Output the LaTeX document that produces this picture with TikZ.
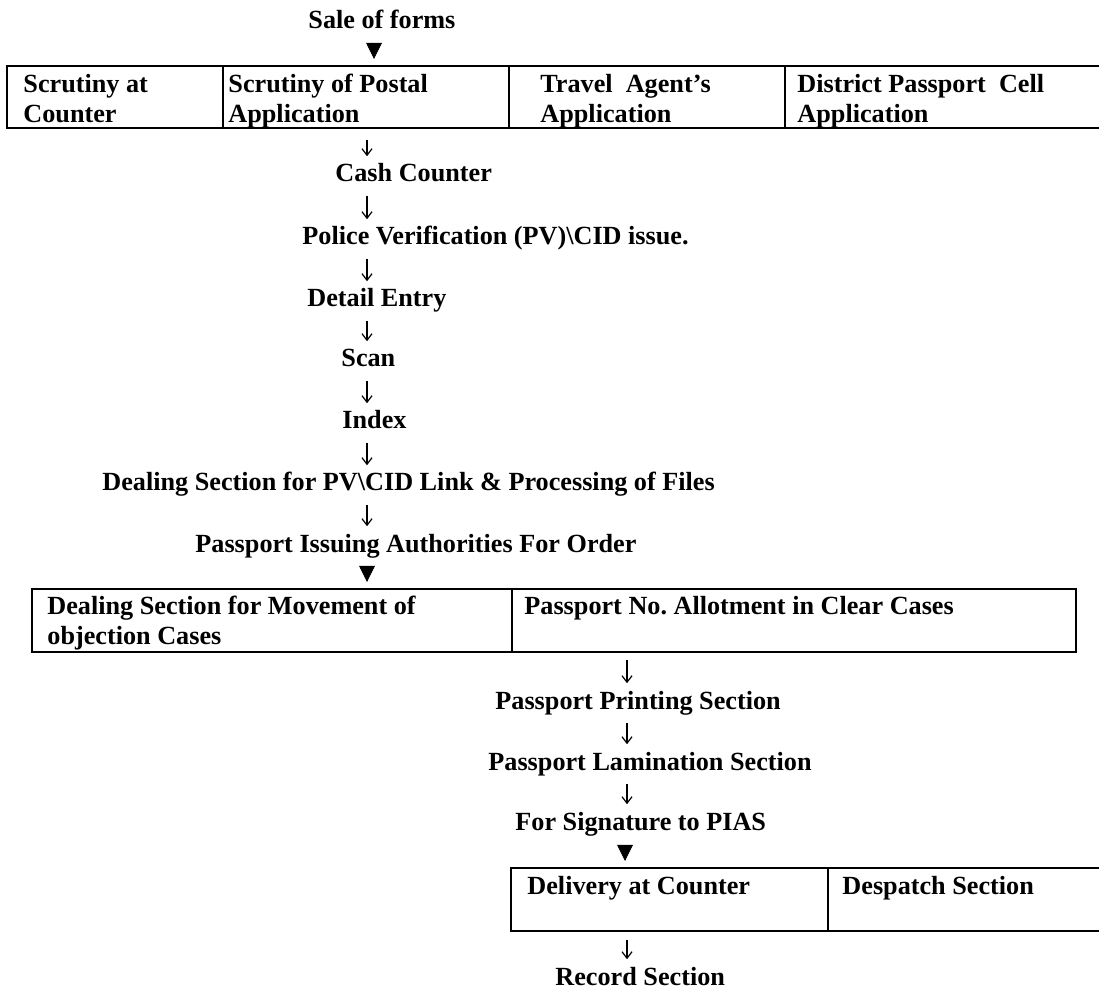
\documentclass[tikz,border=0pt]{standalone}
\usepackage{fontspec}
\setmainfont{Liberation Serif}
\usetikzlibrary{arrows.meta,fit}
\frenchspacing

\tikzset{
  stage/.style={font=\fontsize{12}{13.75}\selectfont\bfseries, inner sep=0pt,
    text height=9pt, text depth=3pt, anchor=base west},
  celltext/.style={font=\fontsize{12}{13.75}\selectfont\bfseries, inner sep=0pt,
    align=left, anchor=north west},
  cell/.style={draw, line width=0.9pt, inner sep=0pt, outer sep=0pt},
  flow/.style={-{Straight Barb[length=3pt,width=4.6pt]}, line width=0.55pt,
    shorten <=3pt, shorten >=2.6pt},
  drop/.style={-{Triangle[length=7.4pt,width=7.2pt]}, line width=0.3pt,
    shorten <=3.8pt, shorten >=3.2pt}
}

\begin{document}
\begin{tikzpicture}[x=0.458pt,y=-0.458pt]
    \useasboundingbox (0,0) rectangle (1099,991);
    % columns for the arrows
    \coordinate (up) at (367,0);
    \coordinate (uptri) at (374,0);
    \coordinate (lo) at (627,0);
    \coordinate (lotri) at (625,0);

    \node[stage] (sale) at (308,29) {Sale of forms};

    % first row of counters (right border runs off the page)
    \node[cell, fit={(7,66) (223,128)}] (c1) {};
    \node[cell, fit={(223,66) (509,128)}] (c2) {};
    \node[cell, fit={(509,66) (785,128)}] (c3) {};
    \node[cell, fit={(785,66) (1102,128)}] (c4) {};
    \node[celltext] (t1) at (23,74) {Scrutiny at\\Counter};
    \node[celltext] (t2) at (228,74) {Scrutiny of Postal\\Application};
    \node[celltext] (t3) at (540,74) {Travel\ \ Agent's\\Application};
    \node[celltext] (t4) at (797,74) {District Passport\ \ Cell\\Application};

    % main chain
    \node[stage] (cash) at (335,182) {Cash Counter};
    \node[stage] (police) at (302,245) {Police Verification (PV)\textbackslash CID issue.};
    \node[stage] (detail) at (307,307) {Detail Entry};
    \node[stage] (scan) at (341,367) {Scan};
    \node[stage] (index) at (342,429) {Index};
    \node[stage] (dealing) at (102,491) {Dealing Section for PV\textbackslash CID Link \& Processing of Files};
    \node[stage] (issuing) at (195,552) {Passport Issuing Authorities For Order};

    % second row
    \node[cell, fit={(32,589) (512,652)}] (d1) {};
    \node[cell, fit={(512,589) (1076,652)}] (d2) {};
    \node[celltext] (u1) at (47,596) {Dealing Section for Movement of\\objection Cases};
    \node[celltext] (u2) at (524,596) {Passport No. Allotment in Clear Cases};

    \node[stage] (printing) at (495,709) {Passport Printing Section};
    \node[stage] (lamination) at (488,770) {Passport Lamination Section};
    \node[stage] (signature) at (515,830) {For Signature to PIAS};

    % third row (right border runs off the page)
    \node[cell, fit={(511,868) (828,931)}] (e1) {};
    \node[cell, fit={(828,868) (1102,931)}] (e2) {};
    \node[celltext] (v1) at (527,876) {Delivery at Counter};
    \node[celltext] (v2) at (842,876) {Despatch Section};

    \node[stage] (record) at (555,985) {Record Section};

    % arrows
    \draw[drop] (sale.south -| uptri) -- (c2.north -| uptri);
    \draw[flow, shorten <=5.5pt] (c2.south -| up) -- (cash.north -| up);
    \draw[flow] (cash.south -| up) -- (police.north -| up);
    \draw[flow] (police.south -| up) -- (detail.north -| up);
    \draw[flow] (detail.south -| up) -- (scan.north -| up);
    \draw[flow] (scan.south -| up) -- (index.north -| up);
    \draw[flow] (index.south -| up) -- (dealing.north -| up);
    \draw[flow] (dealing.south -| up) -- (issuing.north -| up);
    \draw[drop] (issuing.south -| up) -- (d1.north -| up);
    \draw[flow, shorten <=3.7pt] (d2.south -| lo) -- (printing.north -| lo);
    \draw[flow] (printing.south -| lo) -- (lamination.north -| lo);
    \draw[flow] (lamination.south -| lo) -- (signature.north -| lo);
    \draw[drop] (signature.south -| lotri) -- (e1.north -| lotri);
    \draw[flow, shorten <=4pt] (e1.south -| lo) -- (record.north -| lo);
\end{tikzpicture}
\end{document}
